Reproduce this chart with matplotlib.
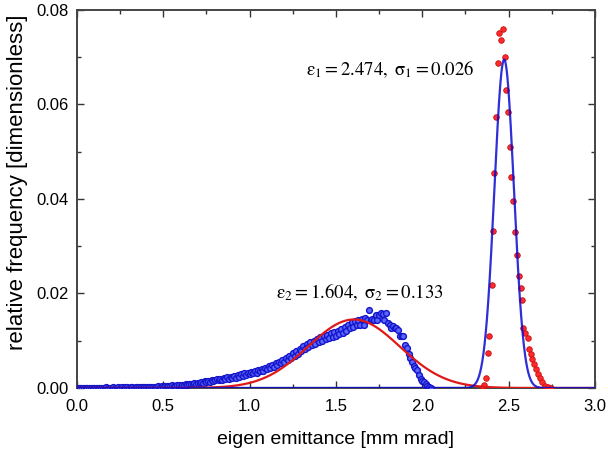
import numpy as np
import matplotlib
matplotlib.use("Agg")
import matplotlib.pyplot as plt
from matplotlib.ticker import MultipleLocator

plt.rcParams['font.family'] = ['Liberation Sans', 'DejaVu Sans']
plt.rcParams['mathtext.fontset'] = 'stix'

# measured histogram, broad peak (blue points), bins of 0.01 from 0.00 to 2.05
blue_start = 0.0
blue_step = 0.01
blue_y = [
    0.0000, 0.0001, 0.0000, 0.0001, 0.0001, 0.0000, 0.0001, 0.0000, 0.0001, 0.0001,
    0.0001, 0.0000, 0.0001, 0.0001, 0.0000, 0.0001, 0.0001, 0.0002, 0.0001, 0.0001,
    0.0001, 0.0002, 0.0001, 0.0001, 0.0002, 0.0001, 0.0002, 0.0001, 0.0002, 0.0002,
    0.0001, 0.0002, 0.0002, 0.0001, 0.0002, 0.0003, 0.0002, 0.0002, 0.0003, 0.0002,
    0.0002, 0.0003, 0.0002, 0.0003, 0.0003, 0.0002, 0.0003, 0.0004, 0.0003, 0.0004,
    0.0003, 0.0004, 0.0005, 0.0004, 0.0004, 0.0006, 0.0005, 0.0005, 0.0006, 0.0006,
    0.0005, 0.0007, 0.0006, 0.0008, 0.0007, 0.0008, 0.0009, 0.0008, 0.0010, 0.0009,
    0.0011, 0.0010, 0.0013, 0.0011, 0.0014, 0.0012, 0.0015, 0.0013, 0.0016, 0.0014,
    0.0017, 0.0018, 0.0016, 0.0020, 0.0017, 0.0021, 0.0018, 0.0023, 0.0020, 0.0024,
    0.0021, 0.0026, 0.0022, 0.0027, 0.0024, 0.0029, 0.0025, 0.0031, 0.0027, 0.0032,
    0.0029, 0.0034, 0.0031, 0.0036, 0.0032, 0.0038, 0.0035, 0.0040, 0.0037, 0.0043,
    0.0040, 0.0046, 0.0042, 0.0049, 0.0045, 0.0052, 0.0049, 0.0056, 0.0052, 0.0059,
    0.0055, 0.0063, 0.0059, 0.0068, 0.0063, 0.0073, 0.0068, 0.0078, 0.0072, 0.0083,
    0.0078, 0.0088, 0.0082, 0.0093, 0.0086, 0.0097, 0.0090, 0.0100, 0.0094, 0.0104,
    0.0097, 0.0108, 0.0100, 0.0110, 0.0103, 0.0113, 0.0106, 0.0116, 0.0108, 0.0118,
    0.0111, 0.0121, 0.0114, 0.0125, 0.0117, 0.0129, 0.0121, 0.0133, 0.0126, 0.0139,
    0.0130, 0.0141, 0.0133, 0.0144, 0.0134, 0.0146, 0.0133, 0.0148, 0.0144, 0.0164,
    0.0144, 0.0147, 0.0143, 0.0155, 0.0144, 0.0155, 0.0158, 0.0156, 0.0144, 0.0158,
    0.0138, 0.0133, 0.0126, 0.0131, 0.0127, 0.0126, 0.0122, 0.0109, 0.0111, 0.0109,
    0.0091, 0.0084, 0.0071, 0.0063, 0.0056, 0.0047, 0.0042, 0.0038, 0.0028, 0.0019,
    0.0015, 0.0012, 0.0008, 0.0005, 0.0003, 0.0001,
]

# measured histogram, narrow peak (red points)
red_x = [2.350, 2.359, 2.369, 2.378, 2.388, 2.402, 2.407, 2.417, 2.427, 2.438,
         2.446, 2.457, 2.469, 2.479, 2.486, 2.496, 2.506, 2.515, 2.525, 2.538,
         2.548, 2.560, 2.570, 2.579, 2.585, 2.596, 2.610, 2.618, 2.628, 2.637,
         2.647, 2.657, 2.670, 2.681, 2.695, 2.710, 2.730, 2.745]
red_y = [0.0003, 0.0006, 0.0022, 0.0073, 0.0109, 0.0217, 0.0333, 0.0454, 0.0574, 0.0687,
         0.0752, 0.0737, 0.0759, 0.0700, 0.0631, 0.0585, 0.0511, 0.0446, 0.0396, 0.0330,
         0.0281, 0.0238, 0.0211, 0.0186, 0.0126, 0.0116, 0.0105, 0.0082, 0.0071, 0.0061,
         0.0050, 0.0040, 0.0030, 0.0021, 0.0012, 0.0005, 0.0002, 0.0001]

# gaussian fits (center, amplitude, width as drawn)
fit1 = (2.474, 0.0695, 0.0565)
fit2 = (1.604, 0.0145, 0.265)

label1 = r'$\mathrm{\varepsilon_1 = 2.474,\ \sigma_1 = 0.026}$'
label2 = r'$\mathrm{\varepsilon_2 = 1.604,\ \sigma_2 = 0.133}$'


def gauss(x, p):
    mu, amp, sig = p
    return amp * np.exp(-0.5 * ((x - mu) / sig) ** 2)


fig = plt.figure(figsize=(6.08, 4.54), dpi=100)
ax = fig.add_axes([0.1266, 0.1454, 0.852, 0.8326])

blue_x = blue_start + blue_step * np.arange(len(blue_y))
xf = np.linspace(0, 3, 1500)

ax.plot(blue_x, blue_y, 'o', ms=4.2, mfc='#5a66ff', mec='#1414c8', mew=1.0, zorder=3)
ax.plot(red_x, red_y, 'o', ms=4.0, mfc='#ff2a2a', mec='#c81010', mew=0.6, zorder=3)
ax.plot(xf, gauss(xf, fit2), color='#e01818', lw=1.6, zorder=4)
ax.plot(xf, gauss(xf, fit1), color='#0a0ad0', lw=1.6, zorder=4, alpha=0.85)

ax.text(1.326, 0.0675, label1, fontsize=13.5, va='center')
ax.text(1.152, 0.0202, label2, fontsize=13.5, va='center')

ax.set_xlim(0, 3)
ax.set_ylim(0, 0.08)
ax.xaxis.set_major_locator(MultipleLocator(0.5))
ax.xaxis.set_minor_locator(MultipleLocator(0.25))
ax.yaxis.set_major_locator(MultipleLocator(0.02))
ax.yaxis.set_minor_locator(MultipleLocator(0.01))
ax.xaxis.set_major_formatter(matplotlib.ticker.FormatStrFormatter('%.1f'))
ax.yaxis.set_major_formatter(matplotlib.ticker.FormatStrFormatter('%.2f'))
ax.tick_params(which='both', direction='in', top=True, right=True,
               color='#333333', width=1.0, labelsize=12, pad=6)
ax.tick_params(axis='x', which='major', pad=8)
ax.tick_params(which='major', length=5)
ax.tick_params(which='minor', length=3)
for s in ax.spines.values():
    s.set_color('#444444')
    s.set_linewidth(1.4)

ax.set_xlabel('eigen emittance [mm mrad]', fontsize=14, labelpad=12)
ax.set_ylabel('relative frequency [dimensionless]', fontsize=16)
ax.yaxis.set_label_coords(-0.095, 0.545)

fig.savefig('out.png', dpi=100)
